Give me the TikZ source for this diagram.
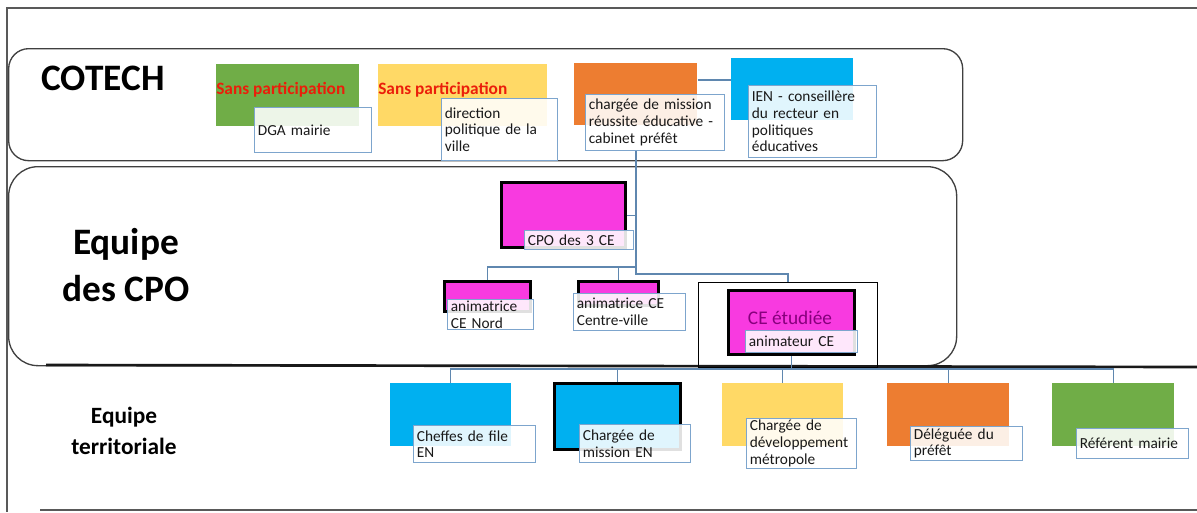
\documentclass[tikz,border=0pt]{standalone}
\usepackage{fontspec}
\setmainfont{Carlito}

\definecolor{cgreen}{RGB}{112,173,71}
\definecolor{cyellow}{RGB}{255,217,102}
\definecolor{corange}{RGB}{237,125,49}
\definecolor{cblue}{RGB}{0,176,240}
\definecolor{cpink}{RGB}{248,58,224}
\definecolor{redtxt}{RGB}{235,30,10}
\definecolor{lblborder}{RGB}{125,165,205}
\definecolor{linkc}{RGB}{95,135,175}
\definecolor{cetext}{RGB}{135,0,125}

\begin{document}
\begin{tikzpicture}[x=0.75pt,y=0.75pt,yscale=-1,xscale=1,
  colbox/.style={rectangle, draw=none, inner sep=0pt, anchor=north west},
  thickbox/.style={colbox, draw=black, line width=2.5pt},
  lbl/.style={rectangle, draw=lblborder, line width=0.8pt, fill=white, fill opacity=0.88, text opacity=1,
    anchor=north west, align=left, inner xsep=2.5pt, inner ysep=1pt,
    font=\fontsize{11.5}{12.5}\selectfont, text=black!90},
  conn/.style={draw=linkc, line width=0.9pt},
  band/.style={rectangle, draw=black!75, line width=1pt, anchor=north west, inner sep=0pt},
  title/.style={align=center, font=\fontsize{28}{35}\selectfont\bfseries},
  nopart/.style={anchor=west, inner sep=0pt, text=redtxt, font=\fontsize{13}{15}\selectfont\bfseries}]
\useasboundingbox (0,0) rectangle (1197,512);

%Frame
\draw[black!65, line width=1pt] (1197,8) -- (7,8) -- (7,512);
\draw[black!65, line width=1pt] (40,510) -- (1197,510);

%Bands
\node[band, rounded corners=15pt, minimum width=715.5pt, minimum height=84pt] (cotband) at (8,48) {};
\node[band, rounded corners=22pt, minimum width=711pt, minimum height=149.25pt] (cpoband) at (8,166) {};
\draw[black!90, line width=2pt] (46,365) -- (1197,367);

% Text Node
\node[title] (cotech) at (103,78) {COTECH};
% Text Node
\node[title] (cpotitle) at (126,265) {Equipe\\des CPO};
% Text Node
\node[title, font=\fontsize{17.5}{23}\selectfont\bfseries] (terr) at (124,431) {Equipe\\territoriale};

%COTECH
\node[colbox, fill=cgreen, minimum width=107.25pt, minimum height=46.5pt] (gr1) at (216,64) {};
\node[colbox, fill=cyellow, minimum width=126.75pt, minimum height=46.5pt] (ye1) at (378,64) {};
\node[colbox, fill=corange, minimum width=92.25pt, minimum height=46.5pt] (or1) at (574,63) {};
\node[colbox, fill=cblue, minimum width=91.5pt, minimum height=46.5pt] (bl1) at (731,58) {};
\node[nopart] (np1) at (216,90) {Sans participation};
\node[nopart] (np2) at (378,90) {Sans participation};
\node[lbl, text width=82.75pt, minimum height=33.75pt] (dga) at (254,107) {DGA mairie};
\node[lbl, text width=82pt, minimum height=46.5pt] (dpv) at (441,98) {direction\\politique de la\\ville};
\node[lbl, text width=99.25pt, minimum height=42pt] (chg) at (585,94) {chargée de mission\\réussite éducative -\\cabinet préfêt};
\node[lbl, text width=91pt, minimum height=54pt] (ien) at (748,85) {IEN - conseillère\\du recteur en\\politiques\\éducatives};

%Equipe des CPO
\node[thickbox, fill=cpink, minimum width=93pt, minimum height=48.75pt] (cpo) at (500,181) {};
\node[lbl, text width=76.75pt, minimum height=14.25pt] (lcpo) at (524,230) {CPO des 3 CE};
\node[thickbox, fill=cpink, minimum width=64.5pt, minimum height=22.5pt] (nord) at (443,280) {};
\node[lbl, text width=59.5pt, minimum height=18pt] (lnord) at (447,299) {animatrice\\CE Nord};
\node[thickbox, fill=cpink, minimum width=60pt, minimum height=18pt] (cv) at (577,280) {};
\node[lbl, text width=79pt, minimum height=27.75pt] (lcv) at (573,293) {animatrice CE\\Centre-ville};
\node[colbox, draw=black, line width=0.8pt, minimum width=134.25pt, minimum height=63.75pt] (etf) at (698,282) {};
\node[thickbox, fill=cpink, minimum width=94.5pt, minimum height=48pt] (ete) at (727,289) {};
\node[text=cetext, font=\fontsize{14.5}{16}\selectfont] (cetxt) at (790,318) {CE étudiée};
\node[lbl, text width=79pt, minimum height=16.5pt] (lete) at (745,330) {animateur CE};

%Equipe territoriale
\node[colbox, fill=cblue, minimum width=90.75pt, minimum height=47.25pt] (cf) at (390,383) {};
\node[thickbox, fill=cblue, minimum width=94.5pt, minimum height=49.5pt] (cme) at (553,382) {};
\node[colbox, fill=cyellow, minimum width=90.75pt, minimum height=47.25pt] (cdm) at (722,383) {};
\node[colbox, fill=corange, minimum width=91.5pt, minimum height=47.25pt] (dp) at (887,383) {};
\node[colbox, fill=cgreen, minimum width=91.5pt, minimum height=47.25pt] (rm) at (1052,383) {};
\node[lbl, text width=86.5pt, minimum height=27.75pt] (lcf) at (413,425) {Cheffes de file\\EN};
\node[lbl, text width=78.25pt, minimum height=28.5pt] (lcme) at (579,424) {Chargée de\\mission EN};
\node[lbl, text width=77.5pt, minimum height=37.5pt] (lcdm) at (746,418) {Chargée de\\développement\\métropole};
\node[lbl, text width=79pt, minimum height=25.5pt] (ldp) at (910,426) {Déléguée du\\préfêt};
\node[lbl, text width=79pt, minimum height=22.5pt] (lrm) at (1076,428) {Référent mairie};

%Connectors
\coordinate (spt) at (636,274);
\coordinate (jn) at (636,267);
\coordinate (bus) at (450,369);
\draw[conn] ([yshift=12.75pt]or1.north east) -- ([yshift=16.5pt]bl1.north west);
\draw[conn] (spt |- chg.south) -- (spt) -| (etf.north);
\draw[conn] (cpo.east) -- (cpo.east -| spt);
\draw[conn] (nord.north) |- (jn);
\draw[conn] (cv.north) -- (cv.north |- jn);
\draw[conn] (ete.south) -- (ete.south |- bus);
\draw[conn] (cf.north) |- (bus -| rm.north) -- (rm.north);
\foreach \n in {cme,cdm,dp}
  \draw[conn] (\n.north) -- (\n.north |- bus);

\end{tikzpicture}
\end{document}
